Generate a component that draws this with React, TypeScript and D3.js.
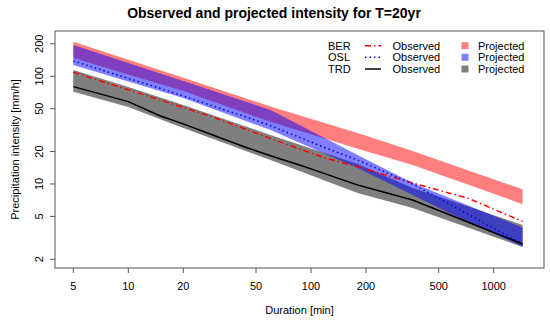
import * as d3 from 'd3'

// observed return levels (mm/h) for T=20yr
const durations = [5, 10, 15, 20, 30, 45, 60, 90, 120, 180, 360, 720, 1440]
const berObserved = [108.9, 74.8, 60.0, 51.3, 41.0, 31.7, 26.5, 20.7, 17.4, 14.5, 10.2, 7.4, 4.49]
const oslObserved = [138.7, 95.4, 77.0, 65.6, 51.9, 41.4, 34.7, 26.4, 21.6, 16.7, 10.0, 5.27, 2.77]
const trdObserved = [80.1, 58.1, 42.8, 36.1, 27.9, 21.6, 18.3, 14.7, 12.4, 9.8, 7.1, 4.44, 2.77]

// projected ranges
const bandDurations = [5, 10, 20, 60, 180, 360, 720, 1440]
const berLow = [148, 104, 73, 37.8, 21.2, 15.0, 9.9, 6.5]
const berHigh = [209, 142.5, 96.8, 52.5, 29.8, 20.2, 13.4, 8.93]
const oslLow = [127.3, 89.5, 62.9, 31.7, 14.1, 7.9, 4.44, 2.62]
const oslHigh = [195.3, 132.9, 90.5, 48.7, 18.6, 10.2, 6.34, 3.93]
const trdLow = [71.9, 51.9, 33.1, 16.7, 8.25, 5.99, 3.95, 2.6]
const trdHigh = [114.4, 79.5, 54.1, 28.5, 15.3, 9.2, 6.2, 4.16]

const xTicks = [5, 10, 20, 50, 100, 200, 500, 1000]
const yTicks = [2, 5, 10, 20, 50, 100, 200]
const stations = ['BER', 'OSL', 'TRD']
const lineColors = ['#ff0000', '#0000ff', '#000000']
const dashes = ['6,3,1.5,3', '1.5,3', 'none']
const bandColors = ['#ff0000', '#0000ff', '#000000']

const width = 550
const height = 323
const left = 55, right = 544, top = 31, bottom = 268
const font = 'Liberation Sans, Arial, sans-serif'

export default function App() {
  const x = d3.scaleLog().domain([3.97, 1885]).range([left, right])
  const y = d3.scaleLog().domain([1.66, 263]).range([bottom, top])

  const line = d3.line<number>()
    .x((d, i) => x(durations[i]))
    .y(d => y(d))

  const band = (lo: number[], hi: number[]) =>
    d3.area<number>()
      .x((d, i) => x(bandDurations[i]))
      .y0((d, i) => y(lo[i]))
      .y1(d => y(d))(hi)

  // gray first, then red, blue on top (matches the overlap colours)
  const bands = [
    { lo: trdLow, hi: trdHigh, c: bandColors[2] },
    { lo: berLow, hi: berHigh, c: bandColors[0] },
    { lo: oslLow, hi: oslHigh, c: bandColors[1] },
  ]
  const obs = [berObserved, oslObserved, trdObserved]

  const legY = [45.7, 57.3, 69]

  return (
    <svg width={width} height={height} style={{ position: 'absolute', left: 0, top: 0, background: '#fff' }} fontFamily={font}>
      <defs>
        <clipPath id="plot">
          <rect x={left} y={top} width={right - left} height={bottom - top} />
        </clipPath>
      </defs>
      <g clipPath="url(#plot)">
        {bands.map((b, i) => (
          <path key={i} d={band(b.lo, b.hi) || ''} fill={b.c} fillOpacity={0.5} stroke="none" />
        ))}
        {obs.map((s, i) => (
          <path key={i} d={line(s) || ''} fill="none" stroke={lineColors[i]}
            strokeWidth={1.5} strokeDasharray={dashes[i]} />
        ))}
      </g>
      <rect x={left} y={top} width={right - left} height={bottom - top} fill="none" stroke="#555" strokeWidth={1} />

      {xTicks.map(t => (
        <g key={t}>
          <line x1={x(t)} x2={x(t)} y1={bottom} y2={bottom + 5} stroke="#555" />
          <text x={x(t)} y={286} fontSize={11} textAnchor="middle" dy="0.35em" fill="#000">{t}</text>
        </g>
      ))}
      {yTicks.map(t => (
        <g key={t}>
          <line x1={left} x2={left - 5} y1={y(t)} y2={y(t)} stroke="#555" />
          <text transform={`translate(39,${y(t)}) rotate(-90)`} fontSize={11} textAnchor="middle" dy="0.35em" fill="#000">{t}</text>
        </g>
      ))}

      <text x={(left + right) / 2} y={310} fontSize={11} textAnchor="middle" dy="0.35em">Duration [min]</text>
      <text transform={`translate(15,${(top + bottom) / 2}) rotate(-90)`} fontSize={11} textAnchor="middle" dy="0.35em">
        Precipitation intensity [mm/h]
      </text>
      <text x={274} y={13} fontSize={14} fontWeight="bold" textAnchor="middle" dy="0.35em">
        Observed and projected intensity for T=20yr
      </text>

      {stations.map((s, i) => (
        <g key={s}>
          <text x={328} y={legY[i]} fontSize={11} dy="0.35em">{s}</text>
          <line x1={365} x2={381} y1={legY[i]} y2={legY[i]} stroke={lineColors[i]} strokeWidth={1.5} strokeDasharray={dashes[i]} />
          <text x={392.5} y={legY[i]} fontSize={11} dy="0.35em">Observed</text>
          <rect x={461.5} y={legY[i] - 3.5} width={7} height={7} fill={bandColors[i]} fillOpacity={0.5} />
          <text x={478} y={legY[i]} fontSize={11} dy="0.35em">Projected</text>
        </g>
      ))}
    </svg>
  )
}
